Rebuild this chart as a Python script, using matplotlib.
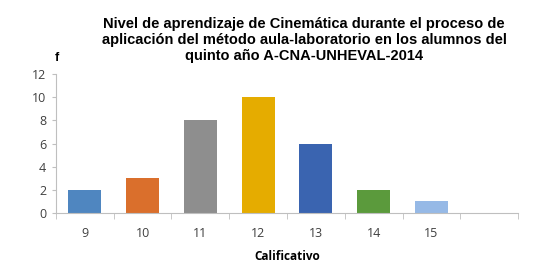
import matplotlib
matplotlib.use("Agg")
import matplotlib.pyplot as plt

# datos del grafico
calificativo = ["9", "10", "11", "12", "13", "14", "15", ""]
frecuencia = [2, 3, 8, 10, 6, 2, 1, 0]
colores = ["#4F86C0", "#DA6F2C", "#8E8E8E", "#E5AC00", "#3A64B0", "#5B9A3C", "#96B9E6", "#FFFFFF"]
yticks = [0, 2, 4, 6, 8, 10, 12]

titulo = ("Nivel de aprendizaje de Cinemática durante el proceso de\n"
          "aplicación del método aula-laboratorio en los alumnos del\n"
          "quinto año A-CNA-UNHEVAL-2014")

fig = plt.figure(figsize=(5.37, 2.74), dpi=100)
ax = fig.add_axes([0.104, 0.2226, 0.861, 0.507])

pos = list(range(len(calificativo)))
ax.bar(pos, frecuencia, width=0.57, color=colores)

ax.set_xlim(-0.5, len(calificativo) - 0.5)
ax.set_ylim(0, 12)
ax.set_yticks(yticks)
ax.set_xticks(pos)
ax.set_xticklabels(calificativo)
ax.set_xticks([p - 0.5 for p in pos] + [len(pos) - 0.5], minor=True)

for s in ["top", "right"]:
    ax.spines[s].set_visible(False)
for s in ["left", "bottom"]:
    ax.spines[s].set_color("#BFBFBF")
    ax.spines[s].set_linewidth(0.8)

ax.tick_params(axis="x", which="major", length=0, pad=10)
ax.tick_params(axis="x", which="minor", length=4, color="#BFBFBF", direction="out")
ax.tick_params(axis="y", length=3, color="#BFBFBF", pad=4)
for lbl in ax.get_xticklabels() + ax.get_yticklabels():
    lbl.set_fontfamily("Open Sans")
    lbl.set_fontsize(9)
    lbl.set_color("#404040")

ax.set_xlabel("Calificativo", fontfamily="Open Sans", fontsize=8.5, fontweight="bold", labelpad=7)

fig.text(0.566, 0.853, titulo, ha="center", va="center", fontfamily="Liberation Sans",
         fontsize=10.5, fontweight="bold", linespacing=1.2)
fig.text(0.106, 0.79, "f", ha="center", va="center", fontfamily="Liberation Sans",
         fontsize=9, fontweight="bold")

fig.savefig("out.png", dpi=100)
